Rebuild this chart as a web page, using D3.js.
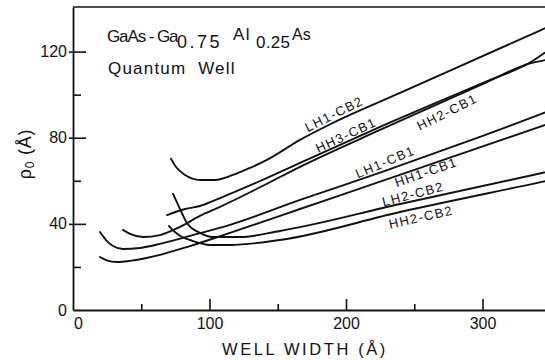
<!DOCTYPE html>
<html>
<head>
<meta charset="utf-8">
<script src="https://cdn.jsdelivr.net/npm/d3@7"></script>
<style>
  html, body { margin: 0; padding: 0; background: #fff; }
  svg { display: block; }
  text { font-family: "Liberation Sans", Arial, sans-serif; fill: #111; }
</style>
</head>
<body>
<svg id="chart" width="545" height="360"></svg>
<script>
// Exciton radius rho0 (Å) against well width (Å) for each transition
const lh1cb2 = [[71.8,70.2],[75.5,66.4],[82.1,62.7],[93.0,60.4],[104.0,60.4],[117.2,62.7],[129.7,66.0],[142.1,69.7],[166.3,79.0],[190.5,86.9],[239.6,100.8],[340.0,129.2],[348,131.5]];
const hh3cb1 = [[68.9,44.1],[82.1,46.9],[93.0,48.3],[107.7,52.0],[137.0,59.9],[166.3,68.3],[224.9,85.0],[300.4,105.5],[334.8,114.9],[348,120.5]];
const hh2cb1 = [[36.6,37.2],[41.8,35.3],[51.3,33.9],[63.7,34.8],[78.4,38.6],[93.0,43.7],[107.7,47.9],[137.0,57.0],[166.3,66.5],[224.9,83.6],[300.4,105.0],[334.8,114.5],[348,116.3]];
const lh1cb1 = [[19.8,36.2],[24.2,32.5],[29.3,29.7],[36.6,28.3],[49.1,28.8],[63.7,30.7],[85.7,34.4],[115.0,39.5],[166.3,51.1],[228.6,64.6],[298.2,80.4],[323.8,86.4],[348,92.2]];
const hh1cb1 = [[19.8,24.6],[24.2,23.2],[32.2,22.3],[41.8,22.8],[63.7,25.6],[85.7,29.7],[115.0,35.8],[166.3,46.9],[258.6,66.9],[348,86.4]];
const lh2cb2 = [[73.3,53.9],[78.4,46.9],[83.5,40.4],[93.0,35.8],[102.6,33.9],[122.3,33.9],[151.6,36.7],[239.6,49.2],[343.6,63.6],[348,64.2]];
const hh2cb2 = [[70.3,39.0],[74.7,36.2],[79.9,33.9],[85.7,32.5],[100.4,30.2],[115.0,30.2],[151.6,32.5],[239.6,45.5],[343.6,59.5],[348,60.1]];

const seriesNames = ["LH1-CB2","HH3-CB1","HH2-CB1","LH1-CB1","HH1-CB1","LH2-CB2","HH2-CB2"];
const seriesData  = [lh1cb2, hh3cb1, hh2cb1, lh1cb1, hh1cb1, lh2cb2, hh2cb2];
// label anchor (well width, rho0) and text angle
const labelAt    = [[191.2,91.1],[200.0,81.3],[274.0,92.0],[228.6,68.8],[258.6,64.1],[249.1,53.9],[254.9,43.2]];
const labelAngle = [-26.6,-25,-26.6,-23,-19.4,-14.7,-12.7];

const xMajor = [0,100,200,300];
const xMinor = [50,150,250];
const yMajor = [0,40,80,120];
const yMinor = [20,60,100];

const svg = d3.select("#chart");
const x = d3.scaleLinear().domain([0,346]).range([73,545.3]);
const y = d3.scaleLinear().domain([0,140.7]).range([310,7]);

const plot = svg.append("g");
plot.append("clipPath").attr("id","clip")
  .append("rect").attr("x",73).attr("y",7).attr("width",480).attr("height",303);

// curves
const line = d3.line().x(d=>x(d[0])).y(d=>y(d[1])).curve(d3.curveMonotoneX);
plot.append("g").attr("clip-path","url(#clip)")
  .selectAll("path").data(seriesData).join("path")
  .attr("d", line).attr("fill","none").attr("stroke","#111")
  .attr("stroke-width",1.9).attr("stroke-linecap","round");

// top frame line
svg.append("line").attr("x1",x(0)).attr("x2",545).attr("y1",y(140.7)).attr("y2",y(140.7))
  .attr("stroke","#111").attr("stroke-width",1.6);

// y axis
const yAx = svg.append("g").attr("transform",`translate(${x(0)},0)`)
  .call(d3.axisLeft(y).tickValues(yMajor).tickSize(-13).tickSizeOuter(0).tickPadding(6).tickFormat(d3.format("d")));
yAx.selectAll(".tick line").attr("x1",-4);
const yMin = svg.append("g").attr("transform",`translate(${x(0)},0)`)
  .call(d3.axisLeft(y).tickValues(yMinor).tickSize(-8).tickFormat(""));
yMin.select(".domain").remove();

// x axis
const xAx = svg.append("g").attr("transform",`translate(0,${y(0)})`)
  .call(d3.axisBottom(x).tickValues(xMajor).tickSize(-11).tickSizeOuter(0).tickPadding(8).tickFormat(d3.format("d")));
const xMin = svg.append("g").attr("transform",`translate(0,${y(0)})`)
  .call(d3.axisBottom(x).tickValues(xMinor).tickSize(-6).tickFormat(""));
xMin.select(".domain").remove();
xAx.selectAll(".tick").filter(d=>d===0).select("text").attr("dx",5);
xAx.selectAll(".tick").filter(d=>d===0).select("line").remove();
yAx.selectAll(".tick").filter(d=>d===0).select("line").remove();

svg.selectAll(".domain").attr("stroke","#111").attr("stroke-width",1.8);
svg.selectAll(".tick line").attr("stroke","#111").attr("stroke-width",1.6);
svg.selectAll(".tick text").attr("font-size",16).attr("fill","#111")
  .style("font-family","'Liberation Sans', Arial, sans-serif");

// axis titles
svg.append("text").attr("x",305).attr("y",355).attr("text-anchor","middle")
  .attr("font-size",16.5).attr("letter-spacing",2.6).text("WELL WIDTH (Å)");
const yt = svg.append("text").attr("transform","translate(31,154) rotate(-90)")
  .attr("text-anchor","middle").attr("font-size",18).attr("letter-spacing",0.8);
yt.append("tspan").text("ρ");
yt.append("tspan").attr("font-size",12).attr("dy",3).text("0");
yt.append("tspan").attr("dy",-3).text(" (Å)");

// title block
const title = svg.append("g").attr("font-size",17);
title.append("text").attr("x",107).attr("y",42).attr("letter-spacing",-1.1).text("GaAs - Ga");
title.append("text").attr("x",177).attr("y",48).attr("font-size",18).attr("letter-spacing",2.5).text("0.75");
title.append("text").attr("x",233).attr("y",40).attr("letter-spacing",1.5).text("Al");
title.append("text").attr("x",256).attr("y",48).attr("letter-spacing",0.3).text("0.25");
title.append("text").attr("x",292).attr("y",40).attr("font-size",16).text("As");
svg.append("text").attr("x",108).attr("y",74).attr("font-size",17).attr("letter-spacing",1.2)
  .attr("xml:space","preserve").text("Quantum  Well");

// curve labels
svg.append("g").selectAll("text").data(seriesNames).join("text")
  .attr("transform",(d,i)=>`translate(${x(labelAt[i][0])},${y(labelAt[i][1])}) rotate(${labelAngle[i]})`)
  .attr("text-anchor","middle").attr("dy","0.36em")
  .attr("font-size",13).attr("letter-spacing",1.4).text(d=>d);
</script>
</body>
</html>
